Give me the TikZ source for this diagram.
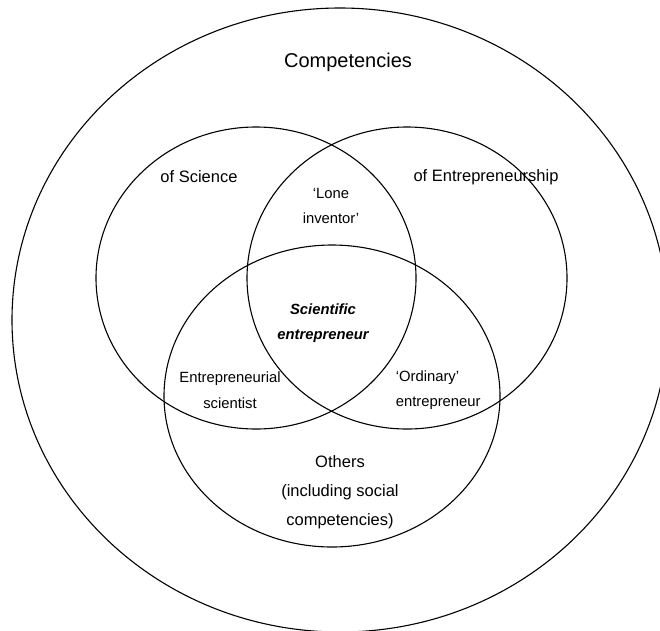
\documentclass[tikz,border=0pt]{standalone}
\usepackage{fontspec}
\setmainfont{Liberation Sans}
\usetikzlibrary{shapes.geometric}
\begin{document}
\begin{tikzpicture}[x=1pt,y=-1pt,
  ring/.style={draw, ellipse, line width=1.1pt, inner sep=0pt},
  lab/.style={align=center, inner sep=0pt},
  big/.style={font=\fontsize{20}{24}\selectfont},
  mid/.style={font=\fontsize{16.5}{29}\selectfont},
  small/.style={font=\fontsize{14.8}{25.5}\selectfont}]
\useasboundingbox (0,0) rectangle (660,630);
\clip (0,0) rectangle (660,630);
\node[ring, minimum width=656pt, minimum height=624pt] (outer) at (340,320) {};
\node[ring, minimum width=320pt, minimum height=302pt] (sci) at (256,278) {};
\node[ring, minimum width=320pt, minimum height=302pt] (ent) at (407,278) {};
\node[ring, minimum width=336pt, minimum height=302pt] (oth) at (332,396) {};
\node[lab, big] (tcomp) at (348,62) {Competencies};
\node[lab, mid] (tsci) at (199,177) {of Science};
\node[lab, mid] (tent) at (486,177) {of Entrepreneurship};
\node[lab, small] (tlone) at (331,206) {‘Lone\\inventor’};
\node[lab, small, font=\fontsize{14.8}{25.5}\selectfont\bfseries\itshape] (tse) at (323,323) {Scientific\\entrepreneur};
\node[lab, small] (tes) at (230,390) {Entrepreneurial\\scientist};
\node[lab, small, align=left, anchor=west] (toe) at (395.6,390) {‘Ordinary’\\entrepreneur};
\node[lab, mid] (toth) at (340,492) {Others\\(including social\\competencies)};
\end{tikzpicture}
\end{document}
